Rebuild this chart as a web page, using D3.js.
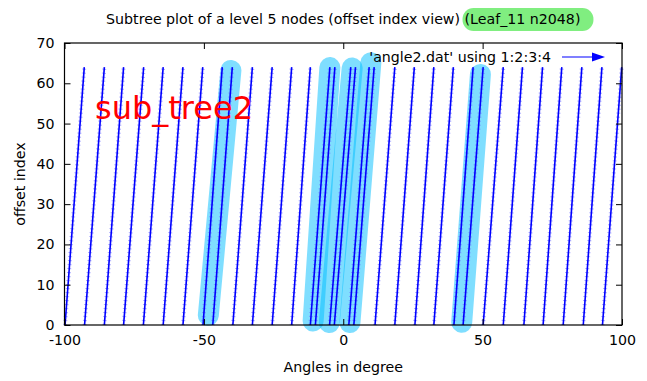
<!DOCTYPE html>
<html>
<head>
<meta charset="utf-8">
<script src="https://cdn.jsdelivr.net/npm/d3@7"></script>
<style>
  html, body { margin: 0; padding: 0; background: #fff; }
  svg { display: block; font-family: "DejaVu Sans", sans-serif; }
</style>
</head>
<body>
<svg id="chart" width="647" height="381"></svg>
<script>
// Vectors from angle2.dat: each runs from (startAngle, 0) to (endAngle, offsetTop)
const startAngles = [-99.8, -92.8, -85.7, -78.8, -71.7, -64.6, -57.5, -50.3, -46.8, -39.6,
  -32.6, -25.5, -18.5, -11.8, -10.0, -4.9, -3.2, 2.0, 3.8, 11.4,
  18.5, 25.7, 32.5, 39.7, 43.0, 50.2, 57.4, 64.8, 71.7, 78.9, 86.1, 93.0];
const endAngles = [-92.9, -85.7, -78.8, -71.6, -64.6, -57.5, -50.4, -43.4, -39.8, -32.6,
  -25.5, -18.5, -11.8, -4.8, -3.0, 2.7, 4.4, 9.3, 11.1, 18.5,
  25.5, 32.5, 39.5, 46.6, 50.2, 57.4, 64.3, 71.5, 78.4, 85.6, 92.8, 99.9];
const offsetTop = 64;

// Highlighted subtree bands (start point -> end point, in data units)
const bandX0 = [-48.4, -10.8, -5.0, 2.4, 42.5];
const bandY0 = [2.4, 1.0, 0.6, 0.6, 0.7];
const bandX1 = [-40.3, -4.8, 3.2, 9.9, 49.2];
const bandY1 = [63.2, 63.9, 63.8, 65.1, 62.2];

const xTicks = [-100, -50, 0, 50, 100];
const yTicks = [0, 10, 20, 30, 40, 50, 60, 70];

const titleMain = "Subtree plot of a level 5 nodes (offset index view) ";
const titleTag = "(Leaf_11 n2048)";
const legendLabel = "'angle2.dat' using 1:2:3:4";
const noteLabel = "sub_tree2";

const svg = d3.select("#chart");
const plotLeft = 64.5, plotRight = 622, plotTop = 43, plotBottom = 325;

const x = d3.scaleLinear().domain([-100, 100]).range([plotLeft, plotRight]);
const y = d3.scaleLinear().domain([0, 70]).range([plotBottom, plotTop]);

const fontSize = 14.2;
const plainNum = d => String(d);

// Highlight bands (drawn under the vectors)
const bands = svg.append("g");
bandX0.forEach((v, i) => {
  bands.append("line")
    .attr("x1", x(v)).attr("y1", y(bandY0[i]))
    .attr("x2", x(bandX1[i])).attr("y2", y(bandY1[i]))
    .attr("stroke", "rgb(0,190,255)")
    .attr("stroke-opacity", 0.5)
    .attr("stroke-width", 21)
    .attr("stroke-linecap", "round");
});

// Vectors: a light dotted halo plus a solid blue core
const vec = svg.append("g");
startAngles.forEach((a, i) => {
  vec.append("line")
    .attr("x1", x(a)).attr("y1", y(0))
    .attr("x2", x(endAngles[i])).attr("y2", y(offsetTop))
    .attr("stroke", "#7070ff")
    .attr("stroke-width", 4)
    .attr("stroke-opacity", 0.6)
    .attr("stroke-dasharray", "1 3");
  vec.append("line")
    .attr("x1", x(a)).attr("y1", y(0))
    .attr("x2", x(endAngles[i])).attr("y2", y(offsetTop))
    .attr("stroke", "#0000ff")
    .attr("stroke-width", 1.6);
});

// Axes with inward ticks, mirrored on top and right
function styleAxis(g) {
  g.select(".domain").remove();
  g.selectAll(".tick line").attr("stroke", "#000").attr("stroke-width", 1);
  g.selectAll(".tick text").attr("fill", "#000")
    .attr("font-family", "DejaVu Sans, sans-serif").attr("font-size", fontSize);
}
svg.append("g").attr("transform", `translate(0,${plotBottom})`)
  .call(d3.axisBottom(x).tickValues(xTicks).tickSize(-6).tickPadding(10).tickFormat(plainNum))
  .call(styleAxis);
svg.append("g").attr("transform", `translate(0,${plotTop})`)
  .call(d3.axisTop(x).tickValues(xTicks).tickSize(-6).tickFormat(""))
  .call(styleAxis);
svg.append("g").attr("transform", `translate(${plotLeft},0)`)
  .call(d3.axisLeft(y).tickValues(yTicks).tickSize(-6).tickPadding(10).tickFormat(plainNum))
  .call(styleAxis);
svg.append("g").attr("transform", `translate(${plotRight},0)`)
  .call(d3.axisRight(y).tickValues(yTicks).tickSize(-6).tickFormat(""))
  .call(styleAxis);

// Plot frame
svg.append("rect")
  .attr("x", plotLeft).attr("y", plotTop)
  .attr("width", plotRight - plotLeft).attr("height", plotBottom - plotTop)
  .attr("fill", "none").attr("stroke", "#000").attr("stroke-width", 1.2);

// Axis titles
svg.append("text")
  .attr("x", (plotLeft + plotRight) / 2).attr("y", 372)
  .attr("text-anchor", "middle").attr("font-size", fontSize)
  .text("Angles in degree");
svg.append("text")
  .attr("transform", `translate(25,${(plotTop + plotBottom) / 2}) rotate(-90)`)
  .attr("text-anchor", "middle").attr("font-size", fontSize)
  .text("offset index");

// Title, with the leaf tag set on a rounded green box
const tagBox = svg.append("rect").attr("fill", "#80ee80");
const title = svg.append("text")
  .attr("x", (plotLeft + plotRight) / 2).attr("y", 24)
  .attr("text-anchor", "middle").attr("font-size", fontSize)
  .attr("xml:space", "preserve");
title.append("tspan").text(titleMain);
const tag = title.append("tspan").text(titleTag);
const tb = tag.node().getBBox();
tagBox
  .attr("x", tb.x - 2).attr("y", 8)
  .attr("width", tb.width + 15).attr("height", 23)
  .attr("rx", 11).attr("ry", 11);

// Red annotation
svg.append("text")
  .attr("x", 95).attr("y", 119)
  .attr("font-size", 32).attr("fill", "#ff0000")
  .text(noteLabel);

// Legend
svg.append("text")
  .attr("x", 551).attr("y", 62)
  .attr("text-anchor", "end").attr("font-size", fontSize)
  .text(legendLabel);
svg.append("line")
  .attr("x1", 562).attr("y1", 57).attr("x2", 596).attr("y2", 57)
  .attr("stroke", "#0000ff").attr("stroke-width", 1.2);
svg.append("path")
  .attr("d", `M605,57 L592,52.5 L592,61.5 Z`)
  .attr("fill", "#0000ff");
</script>
</body>
</html>
